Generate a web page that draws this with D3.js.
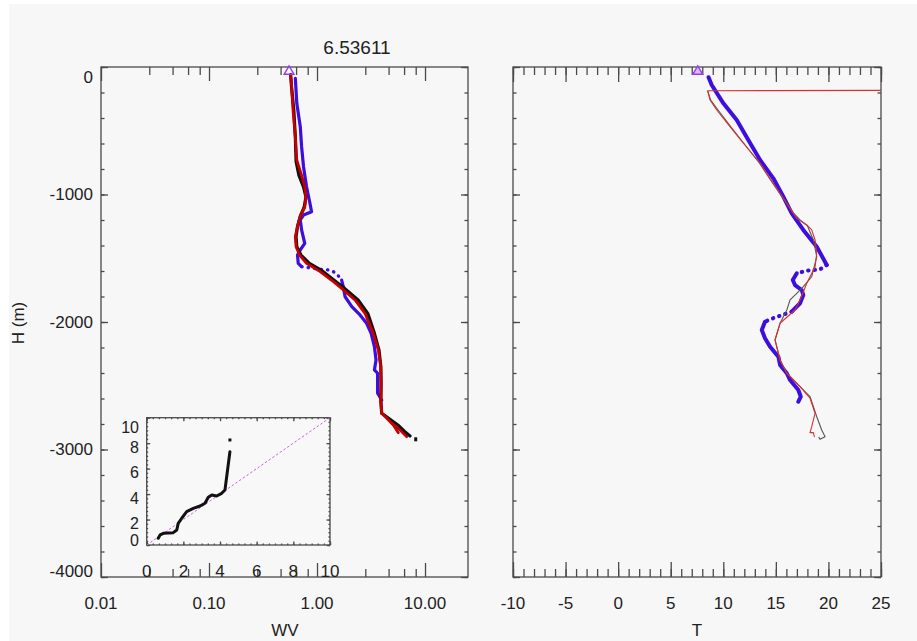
<!DOCTYPE html>
<html>
<head>
<meta charset="utf-8">
<script src="https://cdn.jsdelivr.net/npm/d3@7"></script>
<style>
  body { margin: 0; background: #fff; }
  svg { display: block; font-family: "Liberation Sans", Arial, sans-serif; }
  .frame { fill: none; stroke: #4a4a4a; stroke-width: 1.3; }
  .tick line { stroke: #4a4a4a; stroke-width: 1.3; }
  .domain { display: none; }
  .lbl { fill: #222; font-size: 17px; }
</style>
</head>
<body>
<svg width="917" height="641"></svg>
<script>
// ---- data ----
const title = "6.53611";

// left panel: water vapour (log x) vs height
const wvRed = [[0.57,-70],[0.58,-140],[0.60,-340],[0.63,-550],[0.65,-730],[0.72,-850],[0.77,-940],[0.79,-1020],
  [0.77,-1100],[0.70,-1170],[0.66,-1250],[0.63,-1330],[0.64,-1410],[0.69,-1475],[0.80,-1540],[1.07,-1605],
  [1.42,-1684],[1.69,-1736],[2.25,-1827],[2.78,-1932],[3.32,-2089],[3.70,-2220],[3.89,-2350],[3.92,-2480],
  [3.90,-2620],[3.97,-2716],[4.42,-2755],[5.09,-2808],[5.66,-2868]];
const wvRedTail = [[4.9,-2790],[5.9,-2850],[6.77,-2900]];
const wvBlack = [[0.57,-60],[0.58,-150],[0.61,-340],[0.63,-550],[0.64,-740],[0.68,-850],[0.75,-940],[0.79,-1020],
  [0.76,-1100],[0.70,-1170],[0.66,-1250],[0.64,-1330],[0.65,-1410],[0.71,-1475],[0.85,-1540],[1.12,-1600],
  [1.50,-1684],[1.80,-1736],[2.40,-1827],[2.95,-1932],[3.40,-2089],[3.75,-2220],[3.90,-2350],[3.92,-2480],
  [3.90,-2620],[3.97,-2716],[4.60,-2755],[5.60,-2808],[6.50,-2860],[7.26,-2894]];
const wvBlackDot = [[8.2,-2920]];
const wvBlueA = [[0.63,-89],[0.65,-285],[0.70,-468],[0.72,-625],[0.75,-782],[0.80,-939],[0.86,-1069],[0.89,-1135],
  [0.75,-1161],[0.70,-1200],[0.72,-1278],[0.77,-1383],[0.70,-1435],[0.66,-1475],[0.67,-1540],[0.72,-1566]];
const wvBlueGap = [[0.72,-1566],[1.07,-1587],[1.32,-1592],[1.51,-1618],[1.69,-1671]];
const wvBlueB = [[1.69,-1671],[1.75,-1723],[1.82,-1802],[2.10,-1880],[2.50,-1945],[2.88,-2010],[3.17,-2089],
  [3.40,-2194],[3.52,-2298],[3.40,-2376],[3.64,-2402],[3.64,-2481],[3.64,-2559],[3.97,-2612]];
const wvMarker = [[0.551,-35]];

// right panel: temperature vs height
const tRed = [[25,-183],[8.52,-186],[8.74,-259],[9.38,-337],[10.64,-468],[11.91,-598],[13.50,-755],[14.76,-912],
  [16.04,-1069],[16.66,-1148],[16.99,-1187],[17.94,-1239],[18.41,-1278],[18.73,-1357],[18.89,-1461],[18.73,-1566],
  [17.94,-1696],[17.30,-1827],[16.82,-1906],[15.40,-2010],[14.92,-2141],[15.40,-2298],[16.04,-2402],[17.30,-2507],
  [18.25,-2598],[18.73,-2716],[18.41,-2821],[18.25,-2868],[18.57,-2868],[18.66,-2900]];
const tBlack = [[8.52,-190],[8.80,-260],[9.50,-337],[10.70,-468],[11.95,-598],[13.45,-755],[14.70,-912],[16.00,-1069],
  [16.70,-1148],[17.30,-1200],[18.00,-1245],[18.57,-1357],[18.89,-1488],[18.41,-1645],[17.61,-1723],[16.99,-1775],
  [16.35,-1827],[16.04,-1906],[15.40,-2010],[14.92,-2141],[15.40,-2298],[16.04,-2402],[17.30,-2507],[18.25,-2586],
  [18.89,-2743],[19.36,-2847],[19.68,-2900],[19.20,-2920],[19.10,-2905]];
const tBlueA = [[8.60,-80],[8.90,-141],[10.01,-285],[11.28,-416],[12.38,-573],[13.50,-729],[14.76,-873],[15.71,-1017],
  [16.51,-1148],[17.61,-1278],[18.89,-1409],[19.84,-1553]];
const tBlueGap1 = [[19.84,-1553],[19.20,-1587],[17.94,-1598],[16.99,-1618]];
const tBlueB = [[16.99,-1618],[16.61,-1671],[16.82,-1710],[17.46,-1749],[17.61,-1788],[17.30,-1853],[16.51,-1919]];
const tBlueGap2 = [[16.51,-1919],[14.45,-1979],[13.97,-1998]];
const tBlueC = [[13.97,-1998],[13.66,-2063],[13.97,-2128],[14.45,-2194],[15.24,-2272],[15.40,-2337],[16.04,-2402],
  [16.35,-2455],[17.14,-2533],[17.37,-2586],[17.14,-2625]];
const tMarker = [[7.57,-35]];

// inset: scatter of the two WV profiles
const insetCurve = [[0.63,0.53],[0.73,0.79],[0.91,0.92],[1.45,0.97],[1.64,1.18],[1.72,1.70],[1.91,2.10],[2.18,2.62],
  [2.54,2.88],[2.91,3.06],[3.18,3.28],[3.36,3.75],[3.55,3.93],[3.82,3.85],[4.09,4.06],[4.27,4.32],[4.54,7.33]];
const insetDot = [[4.54,8.25]];
const insetDiag = [[0,0],[10,10]];

// ticks
const hMajor = [0, -1000, -2000, -3000, -4000];
const hMinor = d3.range(0, -4001, -200);
const wvMajor = [0.01, 0.1, 1, 10];
const wvMinor = [0.028,0.046,0.064,0.082,0.28,0.46,0.64,0.82,2.8,4.6,6.4,8.2];
const tMajor = d3.range(-10, 26, 5);
const tMinor = d3.range(-10, 26, 1);
const insetMajor = [0, 2, 4, 6, 8, 10];
const insetMinor = d3.range(0, 10.01, 1 / 3);

// ---- drawing ----
const svg = d3.select("svg");
svg.append("rect").attr("x", 9).attr("y", 4).attr("width", 908).attr("height", 637).attr("fill", "#f7f7f7");

const yTop = 67, yBot = 577;
const y = d3.scaleLinear().domain([-4000, 0]).range([yBot, yTop]);
const xL = d3.scaleLog().domain([0.01, 25]).range([101, 468]);
const xR = d3.scaleLinear().domain([-10, 25]).range([513, 881]);

function ticks(g, axis, vals, size) {
  g.call(axis.tickValues(vals).tickSize(size).tickFormat(""));
}

function frame(x, x0, x1, majors, minors, majLen, minLen) {
  const g = svg.append("g");
  g.append("g").attr("transform", `translate(0,${yBot})`).call(a => ticks(a, d3.axisBottom(x), minors, -minLen));
  g.append("g").attr("transform", `translate(0,${yBot})`).call(a => ticks(a, d3.axisBottom(x), majors, -majLen));
  g.append("g").attr("transform", `translate(0,${yTop})`).call(a => ticks(a, d3.axisTop(x), minors, -minLen));
  g.append("g").attr("transform", `translate(0,${yTop})`).call(a => ticks(a, d3.axisTop(x), majors, -majLen));
  g.append("g").attr("transform", `translate(${x0},0)`).call(a => ticks(a, d3.axisLeft(y), hMinor, -3.5));
  g.append("g").attr("transform", `translate(${x0},0)`).call(a => ticks(a, d3.axisLeft(y), hMajor, -7));
  g.append("g").attr("transform", `translate(${x1},0)`).call(a => ticks(a, d3.axisRight(y), hMinor, -3.5));
  g.append("g").attr("transform", `translate(${x1},0)`).call(a => ticks(a, d3.axisRight(y), hMajor, -7));
  g.append("rect").attr("class", "frame").attr("x", x0).attr("y", yTop).attr("width", x1 - x0).attr("height", yBot - yTop);
}

frame(xL, 101, 468, wvMajor, wvMinor, 14, 8);
frame(xR, 513, 881, tMajor, tMinor, 15, 8);

// clip paths
const defs = svg.append("defs");
defs.append("clipPath").attr("id", "clipL").append("rect").attr("x", 101).attr("y", yTop).attr("width", 367).attr("height", yBot - yTop);
defs.append("clipPath").attr("id", "clipR").append("rect").attr("x", 513).attr("y", yTop).attr("width", 368).attr("height", yBot - yTop);

// labels
svg.append("text").attr("class", "lbl").attr("x", 357).attr("y", 47).attr("text-anchor", "middle")
  .attr("dominant-baseline", "central").style("font-size", "19px").text(title);

svg.selectAll(".hl").data(hMajor).join("text").attr("class", "lbl")
  .attr("x", 93).attr("y", d => Math.min(Math.max(y(d), yTop + 10), yBot - 6))
  .attr("text-anchor", "end").attr("dominant-baseline", "central").text(d => d);

svg.selectAll(".wl").data(wvMajor).join("text").attr("class", "lbl")
  .attr("x", d => xL(d)).attr("y", 603).attr("text-anchor", "middle").attr("dominant-baseline", "central")
  .text(d => d3.format(".2f")(d));

svg.selectAll(".tl").data(tMajor).join("text").attr("class", "lbl")
  .attr("x", d => xR(d)).attr("y", 603).attr("text-anchor", "middle").attr("dominant-baseline", "central")
  .text(d => d);

svg.append("text").attr("class", "lbl").attr("x", 285).attr("y", 630).attr("text-anchor", "middle")
  .attr("dominant-baseline", "central").text("WV");
svg.append("text").attr("class", "lbl").attr("x", 697).attr("y", 630).attr("text-anchor", "middle")
  .attr("dominant-baseline", "central").text("T");
svg.append("text").attr("class", "lbl").attr("transform", "translate(18,323) rotate(-90)")
  .attr("text-anchor", "middle").attr("dominant-baseline", "central").text("H (m)");

// profile lines
function draw(clip, x, pts, color, width, dash) {
  const line = d3.line().x(d => x(d[0])).y(d => y(d[1])).curve(d3.curveLinear);
  svg.append("path").attr("clip-path", `url(#${clip})`).attr("d", line(pts))
    .attr("fill", "none").attr("stroke", color).attr("stroke-width", width)
    .attr("stroke-linejoin", "round").attr("stroke-linecap", "round")
    .attr("stroke-dasharray", dash || null);
}

const blue = "#3c0ee0";
draw("clipL", xL, wvBlueA, blue, 3.2);
draw("clipL", xL, wvBlueGap, blue, 3.2, "0.5 6");
draw("clipL", xL, wvBlueB, blue, 3.2);
draw("clipL", xL, wvBlack, "#111", 3.2);
draw("clipL", xL, wvRed, "#c40000", 2.8);
draw("clipL", xL, wvRedTail, "#c40000", 2.6);
svg.selectAll(".bd").data(wvBlackDot).join("rect")
  .attr("x", d => xL(d[0]) - 1.5).attr("y", d => y(d[1]) - 2).attr("width", 3).attr("height", 4).attr("fill", "#111");

draw("clipR", xR, tBlueA, blue, 4);
draw("clipR", xR, tBlueGap1, blue, 4, "0.5 6");
draw("clipR", xR, tBlueB, blue, 4);
draw("clipR", xR, tBlueGap2, blue, 4, "0.5 6");
draw("clipR", xR, tBlueC, blue, 4);
draw("clipR", xR, tBlack, "#555", 1.1);
draw("clipR", xR, tRed, "#d83030", 1.1);

// markers
const tri = d3.symbol().type(d3.symbolTriangle).size(42);
svg.selectAll(".mkL").data(wvMarker).join("path").attr("d", tri)
  .attr("transform", d => `translate(${xL(d[0])},${y(d[1])})`)
  .attr("fill", "none").attr("stroke", "#9a3cf0").attr("stroke-width", 1.4);
svg.selectAll(".mkR").data(tMarker).join("path").attr("d", tri)
  .attr("transform", d => `translate(${xR(d[0])},${y(d[1])})`)
  .attr("fill", "#d6c0fa").attr("stroke", "#9a3cf0").attr("stroke-width", 1.4);

// inset
const ix0 = 146.7, ix1 = 330, iy0 = 417.7, iy1 = 545;
const xi = d3.scaleLinear().domain([0, 10]).range([ix0, ix1]);
const yi = d3.scaleLinear().domain([0, 10]).range([iy1, iy0]);
const ig = svg.append("g");
ig.append("rect").attr("x", ix0).attr("y", iy0).attr("width", ix1 - ix0).attr("height", iy1 - iy0).attr("fill", "#f8f8f8");
ig.append("g").attr("transform", `translate(0,${iy1})`).call(a => ticks(a, d3.axisBottom(xi), insetMinor, -1.5));
ig.append("g").attr("transform", `translate(0,${iy1})`).call(a => ticks(a, d3.axisBottom(xi), insetMajor, -3.5));
ig.append("g").attr("transform", `translate(0,${iy0})`).call(a => ticks(a, d3.axisTop(xi), insetMinor, -1.5));
ig.append("g").attr("transform", `translate(0,${iy0})`).call(a => ticks(a, d3.axisTop(xi), insetMajor, -3.5));
ig.append("g").attr("transform", `translate(${ix0},0)`).call(a => ticks(a, d3.axisLeft(yi), insetMinor, -1.5));
ig.append("g").attr("transform", `translate(${ix0},0)`).call(a => ticks(a, d3.axisLeft(yi), insetMajor, -3.5));
ig.append("g").attr("transform", `translate(${ix1},0)`).call(a => ticks(a, d3.axisRight(yi), insetMinor, -1.5));
ig.append("g").attr("transform", `translate(${ix1},0)`).call(a => ticks(a, d3.axisRight(yi), insetMajor, -3.5));
ig.selectAll(".tick line").attr("stroke-width", 1);
ig.append("rect").attr("class", "frame").attr("x", ix0).attr("y", iy0).attr("width", ix1 - ix0).attr("height", iy1 - iy0);

const iline = d3.line().x(d => xi(d[0])).y(d => yi(d[1]));
ig.append("path").attr("d", iline(insetDiag)).attr("fill", "none").attr("stroke", "#d060e0")
  .attr("stroke-width", 1).attr("stroke-dasharray", "2.5 2");
ig.append("path").attr("d", iline(insetCurve)).attr("fill", "none").attr("stroke", "#111")
  .attr("stroke-width", 3).attr("stroke-linejoin", "round").attr("stroke-linecap", "round");
ig.selectAll(".idot").data(insetDot).join("rect")
  .attr("x", d => xi(d[0]) - 1.5).attr("y", d => yi(d[1]) - 1.5).attr("width", 3).attr("height", 3).attr("fill", "#111");

ig.selectAll(".iyl").data(insetMajor).join("text").attr("class", "lbl").style("font-size", "16px")
  .attr("x", 139).attr("y", d => Math.min(Math.max(yi(d) + 4, iy0 + 10), iy1 - 5))
  .attr("text-anchor", "end").attr("dominant-baseline", "central").text(d => d);
ig.selectAll(".ixl").data(insetMajor).join("text").attr("class", "lbl")
  .attr("x", d => xi(d)).attr("y", 571).attr("text-anchor", "middle").attr("dominant-baseline", "central")
  .text(d => d);
</script>
</body>
</html>
